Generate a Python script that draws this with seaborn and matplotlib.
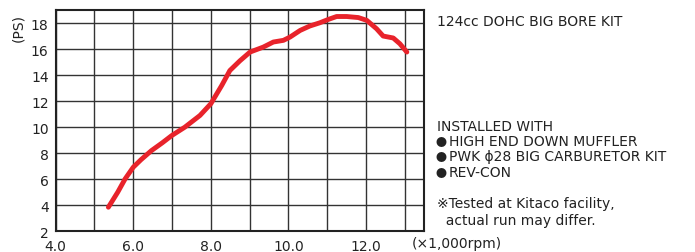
import matplotlib
matplotlib.use("Agg")
import matplotlib.pyplot as plt
import seaborn as sns
import pandas as pd

rpm = [5.36, 5.6, 5.79, 6.0, 6.2, 6.47, 6.75, 6.99, 7.33, 7.72, 8.0, 8.28, 8.49, 8.75,
       9.01, 9.35, 9.61, 9.87, 10.04, 10.3, 10.55, 10.81, 11.03, 11.24, 11.5, 11.8,
       12.02, 12.27, 12.44, 12.7, 12.87, 13.05]
ps = [3.85, 5.0, 6.02, 6.92, 7.5, 8.2, 8.8, 9.35, 10.0, 10.9, 11.8, 13.2, 14.35, 15.1,
      15.77, 16.15, 16.54, 16.67, 16.92, 17.43, 17.77, 18.02, 18.28, 18.5, 18.5, 18.42,
      18.2, 17.56, 17.0, 16.85, 16.41, 15.77]

x_ticks = [4.0, 6.0, 8.0, 10.0, 12.0]
x_grid = [4, 5, 6, 7, 8, 9, 10, 11, 12, 13]
y_ticks = [2, 4, 6, 8, 10, 12, 14, 16, 18]

sns.set_theme(style="white")
plt.rcParams['font.family'] = ['DejaVu Sans', 'Noto Sans CJK JP']

fig = plt.figure(figsize=(6.95, 2.53), dpi=100)
ax = fig.add_axes([0.080, 0.0818, 0.5305, 0.8747])

df = pd.DataFrame({"rpm": rpm, "ps": ps})
for gx in x_grid:
    ax.axvline(gx, color="#333333", lw=1.0, zorder=1)
for gy in y_ticks:
    ax.axhline(gy, color="#333333", lw=1.0, zorder=1)

sns.lineplot(data=df, x="rpm", y="ps", ax=ax, color="#e8232b", lw=3.5,
             solid_capstyle="round", zorder=3)

ax.set_xlim(4.0, 13.5)
ax.set_ylim(2, 19)
ax.set_xticks(x_ticks)
ax.set_xticklabels([f"{v:.1f}" for v in x_ticks])
ax.set_yticks(y_ticks)
ax.set_yticklabels([str(v) for v in y_ticks])
ax.tick_params(axis="y", length=0, labelsize=10, colors="#222222", pad=5)
ax.tick_params(axis="x", length=0, labelsize=10, colors="#222222", pad=5.5)
ax.set_xlabel("")
ax.set_ylabel("")
for s in ax.spines.values():
    s.set_color("#222222")
    s.set_linewidth(1.5)

fig.text(0.026, 1 - 28 / 253, "(PS)", rotation=90, fontsize=10, color="#222222",
         ha="center", va="center")
fig.text(0.592, 1 - 244 / 253, "(×1,000rpm)", fontsize=10, color="#222222", ha="left", va="center")

x0 = 437 / 695
fig.text(x0, 1 - 22 / 253, "124cc DOHC BIG BORE KIT", fontsize=10, color="#222222", va="center")
fig.text(x0, 1 - 127 / 253, "INSTALLED WITH", fontsize=10, color="#222222", va="center")
bullets = ["HIGH END DOWN MUFFLER", "PWK ϕ28 BIG CARBURETOR KIT", "REV-CON"]
ys = [142, 157, 173]
for t, y in zip(bullets, ys):
    fig.text(x0 - 1 / 695, 1 - (y + 1) / 253, "●", fontsize=8, color="#222222", va="center",
             family=["Noto Sans CJK JP", "DejaVu Sans"])
    fig.text(x0 + 12 / 695, 1 - y / 253, t, fontsize=10, color="#222222", va="center")
fig.text(x0, 1 - 204 / 253, "※Tested at Kitaco facility,", fontsize=10, color="#222222", va="center")
fig.text(x0, 1 - 221 / 253, "  actual run may differ.", fontsize=10, color="#222222", va="center")

fig.savefig("out.png", dpi=100)
